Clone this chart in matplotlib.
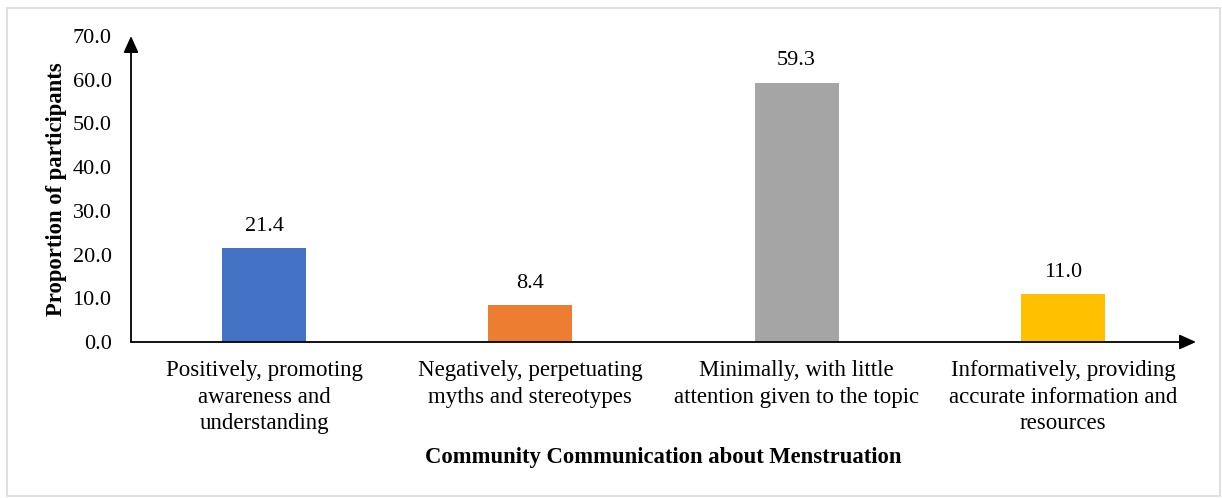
import matplotlib
matplotlib.use("Agg")
import matplotlib.pyplot as plt
from matplotlib.patches import Rectangle

categories = [
    "Positively, promoting\nawareness and\nunderstanding",
    "Negatively, perpetuating\nmyths and stereotypes",
    "Minimally, with little\nattention given to the topic",
    "Informatively, providing\naccurate information and\nresources",
]
values = [21.4, 8.4, 59.3, 11.0]
colors = ["#4472C4", "#ED7D31", "#A5A5A5", "#FFC000"]
yticks = [0, 10, 20, 30, 40, 50, 60, 70]
xlabel = "Community Communication about Menstruation"
ylabel = "Proportion of participants"

plt.rcParams["font.family"] = ["Liberation Serif", "DejaVu Serif"]

fig = plt.figure(figsize=(12.22, 4.98), dpi=100)
fig.patches.append(Rectangle((7 / 1222, 2 / 498), 1213 / 1222, 488 / 498,
                             transform=fig.transFigure, fill=False,
                             edgecolor="#d9d9d9", linewidth=1.2))

ax = fig.add_axes([131 / 1222, (498 - 342) / 498, 1065 / 1222, 306 / 498])
x = list(range(len(categories)))
bars = ax.bar(x, values, width=0.316, color=colors, zorder=2)

for xi, v in zip(x, values):
    ax.text(xi, v + 5.0, f"{v:.1f}", ha="center", va="center", fontsize=16)

ax.set_xlim(-0.5, 3.5)
ax.set_ylim(0, 70)
ax.set_yticks(yticks)
ax.set_yticklabels([f"{t:.1f}" for t in yticks], fontsize=16)
ax.set_xticks(x)
ax.set_xticklabels(categories, fontsize=16.5, linespacing=1.35)
ax.tick_params(axis="both", length=0)
ax.tick_params(axis="y", pad=14)
ax.tick_params(axis="x", pad=13)

for s in ax.spines.values():
    s.set_visible(False)

arrow = dict(arrowstyle="-|>,head_length=1.0,head_width=0.45", color="black",
             lw=1.3, shrinkA=0, shrinkB=0)
ax.annotate("", xy=(0, 1.0), xytext=(0, 0), xycoords="axes fraction",
            textcoords="axes fraction", arrowprops=arrow, annotation_clip=False)
ax.annotate("", xy=(1.0, 0), xytext=(0, 0), xycoords="axes fraction",
            textcoords="axes fraction", arrowprops=arrow, annotation_clip=False)

ax.set_xlabel(xlabel, fontsize=16.3, fontweight="bold", labelpad=9)
ax.set_ylabel(ylabel, fontsize=16.3, fontweight="bold", labelpad=4)

fig.savefig("out.png", dpi=100)
